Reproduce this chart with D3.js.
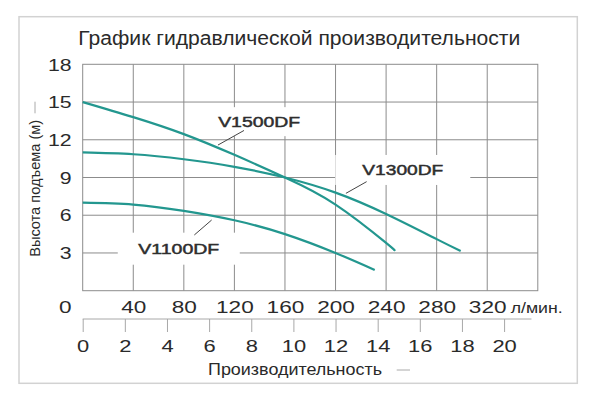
<!DOCTYPE html>
<html><head><meta charset="utf-8">
<script src="https://cdn.jsdelivr.net/npm/d3@7"></script>
<style>
html,body{margin:0;padding:0;background:#fff;}
svg{display:block;font-family:"Liberation Sans",Arial,sans-serif;}
</style></head>
<body>
<svg id="chart" width="600" height="402"></svg>
<script>
// ---- data ----
const titleText = "График гидравлической производительности";
const yTitle = "Высота подъема (м)";
const xTitle = "Производительность";
const flowUnit = "л/мин.";
const flowTicks = [40, 80, 120, 160, 200, 240, 280, 320];
const headTicks = [3, 6, 9, 12, 15, 18];
const m3hTicks = [0, 2, 4, 6, 8, 10, 12, 14, 16, 18, 20];
const seriesNames = ["V1500DF", "V1300DF", "V1100DF"];
const v1500Flow = [0, 40, 80, 120, 160, 200, 240, 246];
const v1500Head = [15.0, 13.8, 12.45, 10.8, 9.0, 6.85, 3.8, 3.25];
const v1300Flow = [0, 40, 80, 120, 160, 200, 240, 280, 299];
const v1300Head = [11.0, 10.85, 10.45, 9.85, 9.0, 7.8, 6.1, 4.1, 3.15];
const v1100Flow = [0, 40, 80, 120, 160, 200, 231];
const v1100Head = [7.0, 6.85, 6.35, 5.6, 4.5, 3.0, 1.65];

// ---- layout / annotation config ----
const sx = 1.33; // horizontal stretch of glyphs
const labelCfg = [
  {name: "V1500DF", cx: 139.6, cy: 13.44, bw: 108, bh: 29, tl: 82, l0: [107.0, 11.58], l1: [127.6, 12.74]},
  {name: "V1300DF", cx: 253.2, cy: 9.6, bw: 135, bh: 30, tl: 81, l0: [208.2, 7.74], l1: [224.6, 8.67]},
  {name: "V1100DF", cx: 76.0, cy: 3.34, bw: 122, bh: 32, tl: 81, l0: [88.3, 4.43], l1: [102.0, 5.62]}
];

const svg = d3.select("#chart");
const x = d3.scaleLinear().domain([0, 360]).range([82.7, 537.8]);
const y = d3.scaleLinear().domain([0, 18]).range([290.7, 64.3]);
const xm = d3.scaleLinear().domain([0, 21.6]).range([82.7, 537.8]);

const gridColor = "#8c8c8c";
const textColor = "#2a2a2a";
const curveColor = "#23978f";

// outer frame
svg.append("rect").attr("x", 19).attr("y", 16.7).attr("width", 558.3).attr("height", 366.6)
  .attr("fill", "none").attr("stroke", "#d2d2d2").attr("stroke-width", 1.5);

// title
svg.append("text").attr("x", 78.3).attr("y", 45).attr("font-size", 20).attr("fill", textColor)
  .attr("textLength", 442).attr("lengthAdjust", "spacingAndGlyphs").text(titleText);

// grid
const grid = svg.append("g").attr("stroke", gridColor).attr("stroke-width", 1);
grid.selectAll("line.v").data(flowTicks).join("line")
  .attr("x1", d => x(d)).attr("x2", d => x(d)).attr("y1", y(18)).attr("y2", y(0));
grid.selectAll("line.h").data(headTicks.filter(d => d < 18)).join("line").attr("class", "h")
  .attr("x1", x(0)).attr("x2", x(360)).attr("y1", d => y(d)).attr("y2", d => y(d));
svg.append("rect").attr("x", x(0)).attr("y", y(18)).attr("width", x(360) - x(0)).attr("height", y(0) - y(18))
  .attr("fill", "none").attr("stroke", gridColor).attr("stroke-width", 1);

// label boxes (white) interrupting grid
svg.selectAll("rect.lb").data(labelCfg).join("rect").attr("class", "lb")
  .attr("x", d => x(d.cx) - d.bw / 2).attr("y", d => y(d.cy) - d.bh / 2)
  .attr("width", d => d.bw).attr("height", d => d.bh).attr("fill", "#fff");

// curves
const series = [
  {flow: v1500Flow, head: v1500Head},
  {flow: v1300Flow, head: v1300Head},
  {flow: v1100Flow, head: v1100Head}
];
const line = d3.line().x(d => x(d[0])).y(d => y(d[1])).curve(d3.curveNatural);
svg.selectAll("path.curve").data(series).join("path").attr("class", "curve")
  .attr("d", s => line(s.flow.map((f, i) => [f, s.head[i]])))
  .attr("fill", "none").attr("stroke", curveColor).attr("stroke-width", 2.2);

// leader lines
svg.selectAll("line.lead").data(labelCfg).join("line").attr("class", "lead")
  .attr("x1", d => x(d.l0[0])).attr("y1", d => y(d.l0[1]))
  .attr("x2", d => x(d.l1[0])).attr("y2", d => y(d.l1[1]))
  .attr("stroke", "#444").attr("stroke-width", 1);

// curve labels
svg.selectAll("text.lbl").data(labelCfg).join("text").attr("class", "lbl")
  .attr("x", d => x(d.cx) - d.tl / 2).attr("y", d => y(d.cy) + 5)
  .attr("font-size", 14).attr("fill", "#2e2e2e").attr("stroke", "#2e2e2e").attr("stroke-width", 0.45)
  .attr("textLength", d => d.tl).attr("lengthAdjust", "spacingAndGlyphs")
  .text(d => d.name);

// y axis labels
const yAx = svg.append("g").attr("transform", `translate(${x(0)},0)`)
  .call(d3.axisLeft(y).tickValues(headTicks).tickSize(0));
yAx.select(".domain").remove();
yAx.selectAll("text").attr("x", 0).attr("dy", "0.36em").attr("font-size", 16)
  .attr("font-family", null).attr("fill", textColor)
  .attr("transform", `translate(-11,0) scale(${sx},1)`);

// top x labels (l/min)
const rowY = 312.6;
const xAx = svg.append("g").attr("transform", `translate(0,${rowY})`)
  .call(d3.axisBottom(x).tickValues(flowTicks).tickSize(0));
xAx.select(".domain").remove();
xAx.selectAll("text").attr("y", 0).attr("dy", null).attr("font-size", 17)
  .attr("font-family", null).attr("fill", textColor)
  .attr("transform", `scale(${sx},1)`);
// zero label shared by both axes
svg.append("text").attr("text-anchor", "end").attr("font-size", 17).attr("fill", textColor)
  .attr("transform", `translate(${x(0) - 11},${rowY}) scale(${sx},1)`).text("0");
svg.append("text").attr("x", 510.7).attr("y", rowY).attr("font-size", 14).attr("fill", textColor)
  .attr("textLength", 52).attr("lengthAdjust", "spacingAndGlyphs").text(flowUnit);

// second axis (m3/h)
const mAx = svg.append("g").attr("transform", "translate(0,319)")
  .call(d3.axisBottom(xm).tickValues(m3hTicks).tickSize(13).tickSizeOuter(0));
mAx.select(".domain").attr("d", `M${xm(0)},0H${xm(21.3)}`).attr("stroke", "#a8a8a8");
mAx.selectAll(".tick line").attr("stroke", "#a8a8a8");
mAx.selectAll("text").attr("y", 32.8).attr("dy", null).attr("font-size", 16.5)
  .attr("font-family", null).attr("fill", textColor)
  .attr("transform", `scale(${sx},1)`);

// x title
svg.append("text").attr("x", 208).attr("y", 375).attr("font-size", 16).attr("fill", textColor)
  .attr("textLength", 174).attr("lengthAdjust", "spacingAndGlyphs").text(xTitle);
svg.append("line").attr("x1", 396.7).attr("x2", 410).attr("y1", 370).attr("y2", 370)
  .attr("stroke", "#aaa").attr("stroke-width", 1);

// y title
svg.append("text").attr("transform", "translate(35,188.3) rotate(-90)")
  .attr("text-anchor", "middle").attr("dominant-baseline", "central")
  .attr("font-size", 14).attr("fill", textColor)
  .attr("textLength", 137).attr("lengthAdjust", "spacingAndGlyphs").text(yTitle);
svg.append("line").attr("x1", 35).attr("x2", 35).attr("y1", 101.7).attr("y2", 113.3)
  .attr("stroke", "#aaa").attr("stroke-width", 1);
</script>
</body></html>
